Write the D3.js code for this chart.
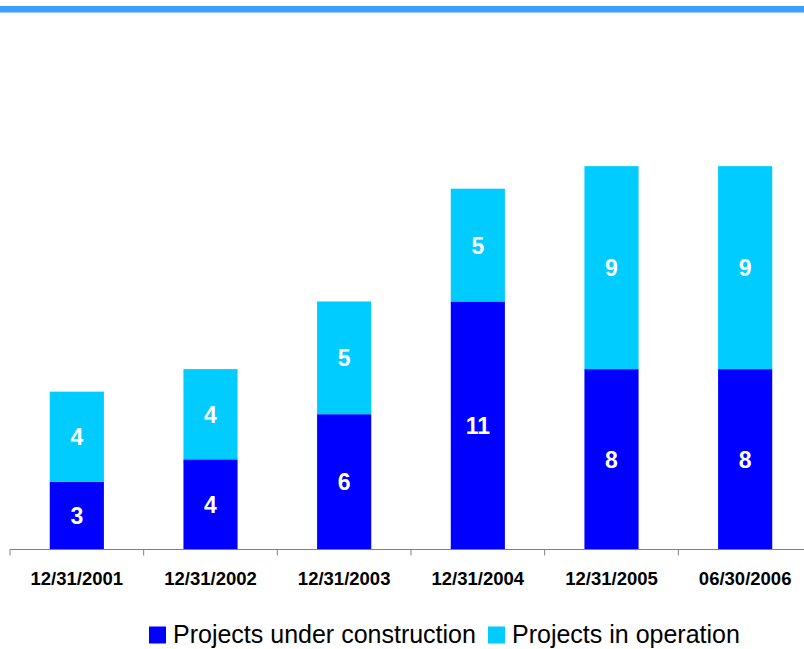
<!DOCTYPE html>
<html>
<head>
<meta charset="utf-8">
<script src="https://cdn.jsdelivr.net/npm/d3@7"></script>
<style>
  html, body { margin: 0; padding: 0; background: #fff; }
  svg { display: block; font-family: Arial, "Liberation Sans", sans-serif; }
</style>
</head>
<body>
<svg id="chart" width="804" height="649"></svg>
<script>
// Project counts per reporting date
const categories = ["12/31/2001", "12/31/2002", "12/31/2003", "12/31/2004", "12/31/2005", "06/30/2006"];
const underConstruction = [3, 4, 6, 11, 8, 8];
const inOperation = [4, 4, 5, 5, 9, 9];
const seriesNames = ["Projects under construction", "Projects in operation"];
const seriesColors = ["#0000FF", "#00CCFF"];

const svg = d3.select("#chart");

// Header rule
svg.append("rect")
  .attr("x", 0).attr("y", 6)
  .attr("width", 804).attr("height", 6.5)
  .attr("fill", "#3C9EFF");

const x = d3.scaleBand()
  .domain(categories)
  .range([10, 812])
  .paddingInner(0.595)
  .paddingOuter(0.2975);

const y = d3.scaleLinear()
  .domain([0, 20])
  .range([549.5, 98.5]);

const rows = categories.map((c, i) => ({
  cat: c,
  "Projects under construction": underConstruction[i],
  "Projects in operation": inOperation[i]
}));

const stacked = d3.stack().keys(seriesNames)(rows);

const groups = svg.append("g").selectAll("g")
  .data(stacked)
  .join("g")
  .attr("fill", (d, i) => seriesColors[i]);

groups.selectAll("rect")
  .data(d => d)
  .join("rect")
  .attr("x", d => x(d.data.cat))
  .attr("y", d => y(d[1]))
  .attr("width", x.bandwidth())
  .attr("height", d => y(d[0]) - y(d[1]));

// Value labels centred in each segment
svg.append("g").selectAll("g")
  .data(stacked)
  .join("g")
  .selectAll("text")
  .data(d => d)
  .join("text")
  .attr("x", d => x(d.data.cat) + x.bandwidth() / 2)
  .attr("y", d => (y(d[0]) + y(d[1])) / 2)
  .attr("dy", "0.37em")
  .attr("text-anchor", "middle")
  .attr("fill", "#fff")
  .attr("font-weight", "bold")
  .attr("font-size", "23px")
  .text(d => d[1] - d[0]);

// Category axis with ticks at band boundaries
const axisY = 549.5;
const axisG = svg.append("g");
axisG.append("line")
  .attr("x1", 10).attr("x2", 804)
  .attr("y1", axisY).attr("y2", axisY)
  .attr("stroke", "#808080").attr("stroke-width", 1);

const gap = (x.step() - x.bandwidth()) / 2;
axisG.selectAll("line.tick")
  .data(categories)
  .join("line")
  .attr("class", "tick")
  .attr("x1", d => x(d) - gap)
  .attr("x2", d => x(d) - gap)
  .attr("y1", axisY).attr("y2", axisY + 6)
  .attr("stroke", "#808080");

axisG.selectAll("text")
  .data(categories)
  .join("text")
  .attr("x", d => x(d) + x.bandwidth() / 2)
  .attr("y", 585)
  .attr("text-anchor", "middle")
  .attr("font-weight", "bold")
  .attr("font-size", "18.5px")
  .attr("fill", "#000")
  .text(d => d);

// Legend
const legendItems = [
  { name: seriesNames[0], color: seriesColors[0], x: 149 },
  { name: seriesNames[1], color: seriesColors[1], x: 488 }
];
const lg = svg.append("g").selectAll("g")
  .data(legendItems)
  .join("g")
  .attr("transform", d => `translate(${d.x},0)`);
lg.append("rect")
  .attr("x", 0).attr("y", 626.5)
  .attr("width", 17).attr("height", 17)
  .attr("fill", d => d.color);
lg.append("text")
  .attr("x", 24).attr("y", 643)
  .attr("font-size", "25px")
  .attr("fill", "#000")
  .text(d => d.name);
</script>
</body>
</html>
